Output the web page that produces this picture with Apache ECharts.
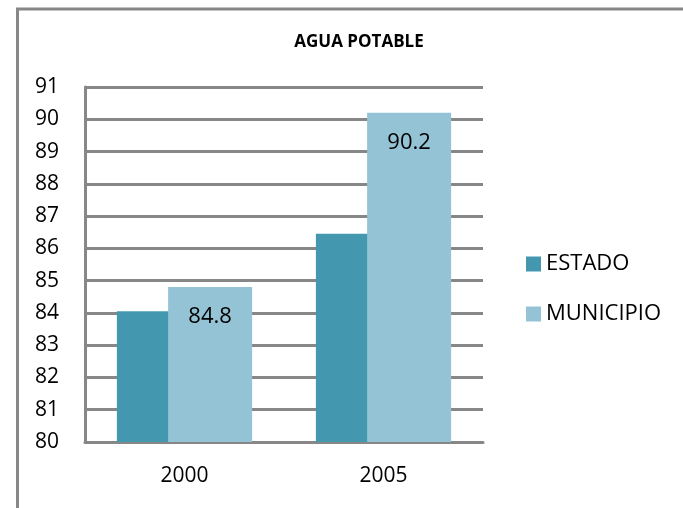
<!DOCTYPE html>
<html>
<head>
<meta charset="utf-8">
<script src="https://cdn.jsdelivr.net/npm/echarts@6/dist/echarts.min.js"></script>
<style>
  html, body { margin: 0; padding: 0; background: #ffffff; }
  #chart { width: 683px; height: 508px; }
</style>
</head>
<body>
<div id="chart"></div>
<script>
// Coverage of drinking water (%), state vs. municipality
const categories = ['2000', '2005'];
const estado = [84.05, 86.45];
const municipio = [84.8, 90.2];
const yTicks = { min: 80, max: 91, interval: 1 };

const FONT = 'Open Sans';
const GRID_GRAY = '#878787';

const chart = echarts.init(document.getElementById('chart'));
chart.setOption({
  backgroundColor: '#ffffff',
  animation: false,
  title: {
    text: 'AGUA POTABLE',
    left: 354,
    top: 29,
    textAlign: 'center',
    textStyle: { fontFamily: FONT, fontWeight: 'bold', fontSize: 17, color: '#000' }
  },
  legend: {
    orient: 'vertical',
    left: 521,
    top: 248,
    itemWidth: 15,
    itemHeight: 15,
    itemGap: 28,
    icon: 'rect',
    textStyle: { fontFamily: FONT, fontSize: 22, color: '#000', padding: [0, 0, 0, 0] },
    data: ['ESTADO', 'MUNICIPIO']
  },
  grid: { left: 85, right: 200, top: 87, bottom: 66, containLabel: false },
  xAxis: {
    type: 'category',
    data: categories,
    axisLine: { lineStyle: { color: GRID_GRAY, width: 3 } },
    axisTick: { show: false },
    axisLabel: { fontFamily: FONT, fontSize: 21, color: '#000', margin: 24 }
  },
  yAxis: {
    type: 'value',
    min: yTicks.min,
    max: yTicks.max,
    interval: yTicks.interval,
    axisLine: { show: true, lineStyle: { color: GRID_GRAY, width: 3 } },
    axisTick: { show: false },
    splitLine: { lineStyle: { color: GRID_GRAY, width: 3 } },
    axisLabel: { fontFamily: FONT, fontSize: 21, color: '#000', margin: 26 }
  },
  series: [
    {
      name: 'ESTADO',
      type: 'bar',
      data: estado,
      barWidth: 84,
      barGap: '-39%',
      itemStyle: { color: '#4398B0' }
    },
    {
      name: 'MUNICIPIO',
      type: 'bar',
      data: municipio,
      barWidth: 84,
      itemStyle: { color: '#93C3D5' },
      label: {
        show: true,
        position: 'insideTop',
        distance: 19,
        fontFamily: FONT,
        fontSize: 22,
        color: '#000',
        formatter: p => p.value.toFixed(1)
      }
    }
  ],
  graphic: [
    {
      type: 'polyline',
      shape: { points: [[17.5, 508], [17.5, 9], [683, 9]] },
      style: { stroke: GRID_GRAY, lineWidth: 3, fill: null },
      silent: true
    }
  ]
});
</script>
</body>
</html>
